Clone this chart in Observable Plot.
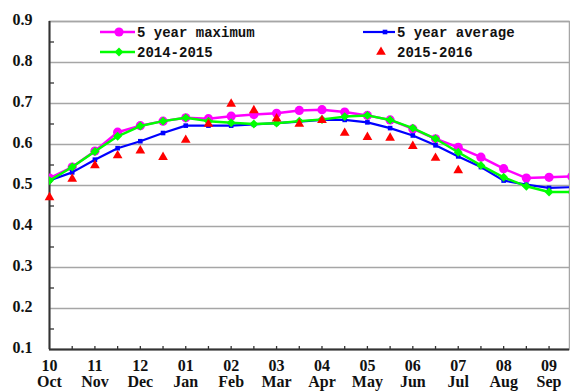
<!DOCTYPE html>
<html><head><meta charset="utf-8">
<script src="https://cdn.jsdelivr.net/npm/d3@7"></script>
<script src="https://cdn.jsdelivr.net/npm/@observablehq/plot@0.6"></script>
<style>
html,body{margin:0;padding:0;background:#fff;}
#wrap{position:relative;width:570px;height:392px;overflow:hidden;}
#legend{position:absolute;left:0;top:0;pointer-events:none;}
</style></head><body><div id="wrap"></div>
<script>
// Tick labels
const monthNums = ["10","11","12","01","02","03","04","05","06","07","08","09"];
const monthNames = ["Oct","Nov","Dec","Jan","Feb","Mar","Apr","May","Jun","Jul","Aug","Sep"];
const yTicks = [0.1,0.2,0.3,0.4,0.5,0.6,0.7,0.8,0.9];
const yMinor = [0.15,0.25,0.35,0.45,0.55,0.65,0.75,0.85];
// Half-month positions (0 = 1 Oct, 2 = 1 Nov, ...)
const halfMonths = d3.range(24);
// Series
const seriesNames = ["5 year maximum","5 year average","2014-2015","2015-2016"];
const maxVals = [0.518,0.545,0.584,0.630,0.646,0.657,0.665,0.663,0.669,0.673,0.676,0.683,
                 0.685,0.679,0.671,0.660,0.638,0.614,0.593,0.569,0.541,0.518,0.520,0.522];
const avgVals = [0.512,0.532,0.563,0.591,0.608,0.628,0.646,0.646,0.646,0.649,0.652,0.656,
                 0.660,0.660,0.654,0.640,0.622,0.598,0.571,0.545,0.512,0.502,0.494,0.496];
const vals1415 = [0.512,0.545,0.583,0.620,0.645,0.657,0.665,0.657,0.653,0.650,0.652,0.657,
                  0.661,0.668,0.671,0.660,0.640,0.614,0.581,0.549,0.520,0.498,0.484,0.484];
const vals1516 = [0.471,0.516,0.549,0.573,0.585,0.569,0.611,0.650,0.699,0.683,0.663,0.650,
                  0.659,0.628,0.618,0.616,0.596,0.567,0.537];

const rows = vals => vals.map((v, i) => ({i: halfMonths[i], v}));
const colors = {max:"#ff00ff", avg:"#0000ff", y1415:"#00ff00", y1516:"#ff0000"};

const plot = Plot.plot({
  width: 570, height: 392,
  marginLeft: 49, marginRight: 1, marginTop: 21, marginBottom: 43,
  style: {fontFamily: "'Liberation Serif', 'Times New Roman', serif", fontSize: "16px", fontWeight: "bold", color: "#111", background: "#fff"},
  x: {domain: [0, 22.9]},
  y: {domain: [0.1, 0.9]},
  marks: [
    Plot.gridY(yTicks, {stroke: "#a6a6a6", strokeOpacity: 1, strokeWidth: 1.5}),
    Plot.frame({stroke: "#a6a6a6", strokeWidth: 1.5}),
    Plot.ruleX([0], {stroke: "#333", strokeWidth: 2}),
    Plot.ruleY([0.1], {stroke: "#333", strokeWidth: 2}),
    Plot.tickX(halfMonths.slice(1, 23), {x: d => d, stroke: "#333", strokeWidth: 1.3, insetTop: 325}),
    Plot.tickY(yMinor, {y: d => d, stroke: "#333", strokeWidth: 1.3, insetRight: 515}),
    Plot.axisY(yTicks, {tickSize: 0, tickPadding: 17, dy: -2, tickFormat: d3.format(".1f"), label: null}),
    Plot.axisX(d3.range(0, 23, 2), {tickSize: 0, tickPadding: 10, lineHeight: 1.0,
      tickFormat: i => monthNums[i / 2] + "\n" + monthNames[i / 2], label: null}),
    Plot.line(rows(maxVals), {x: "i", y: "v", stroke: colors.max, strokeWidth: 2.5, clip: true}),
    Plot.dot(rows(maxVals), {x: "i", y: "v", r: 4.6, fill: colors.max, symbol: "circle", clip: true}),
    Plot.line(rows(avgVals), {x: "i", y: "v", stroke: colors.avg, strokeWidth: 2.2, clip: true}),
    Plot.dot(rows(avgVals), {x: "i", y: "v", r: 2.6, fill: colors.avg, symbol: "square", clip: true}),
    Plot.line(rows(vals1415), {x: "i", y: "v", stroke: colors.y1415, strokeWidth: 2.5, clip: true}),
    Plot.dot(rows(vals1415), {x: "i", y: "v", r: 4, fill: colors.y1415, symbol: "diamond2", clip: true}),
    Plot.dot(rows(vals1516), {x: "i", y: "v", r: 3.6, fill: colors.y1516, symbol: "triangle"})
  ]
});
document.getElementById("wrap").appendChild(plot);

// Legend overlay (inside the plot frame, top)
const legendItems = [
  {name: seriesNames[0], color: colors.max, sym: d3.symbolCircle, size: Math.PI*4.6*4.6, line: true, lx: 100, sx: 119, tx: 137, y: 32},
  {name: seriesNames[2], color: colors.y1415, sym: d3.symbolDiamond2, size: Math.PI*16, line: true, lx: 100, sx: 119, tx: 137, y: 52},
  {name: seriesNames[1], color: colors.avg, sym: d3.symbolSquare, size: Math.PI*2.6*2.6, line: true, lx: 363, sx: 385, tx: 397, y: 32},
  {name: seriesNames[3], color: colors.y1516, sym: d3.symbolTriangle, size: Math.PI*3.6*3.6, line: false, lx: 363, sx: 381, tx: 397, y: 52}
];
const lg = d3.select("#wrap").append("svg").attr("id", "legend").attr("width", 570).attr("height", 80);
const g = lg.selectAll("g").data(legendItems).join("g");
g.filter(d => d.line).append("line")
  .attr("x1", d => d.lx).attr("x2", d => d.tx - 2).attr("y1", d => d.y).attr("y2", d => d.y)
  .attr("stroke", d => d.color).attr("stroke-width", d => d.color === colors.avg ? 2.2 : 2.5);
g.append("path")
  .attr("transform", d => `translate(${d.sx},${d.y})`)
  .attr("d", d => d3.symbol(d.sym, d.size)())
  .attr("fill", d => d.color);
g.append("text")
  .attr("x", d => d.tx).attr("y", d => d.y).attr("dy", "0.35em")
  .attr("font-family", "'Liberation Mono', 'DejaVu Sans Mono', monospace")
  .attr("font-size", 14).attr("font-weight", "bold").attr("fill", "#111")
  .text(d => d.name);
</script></body></html>
